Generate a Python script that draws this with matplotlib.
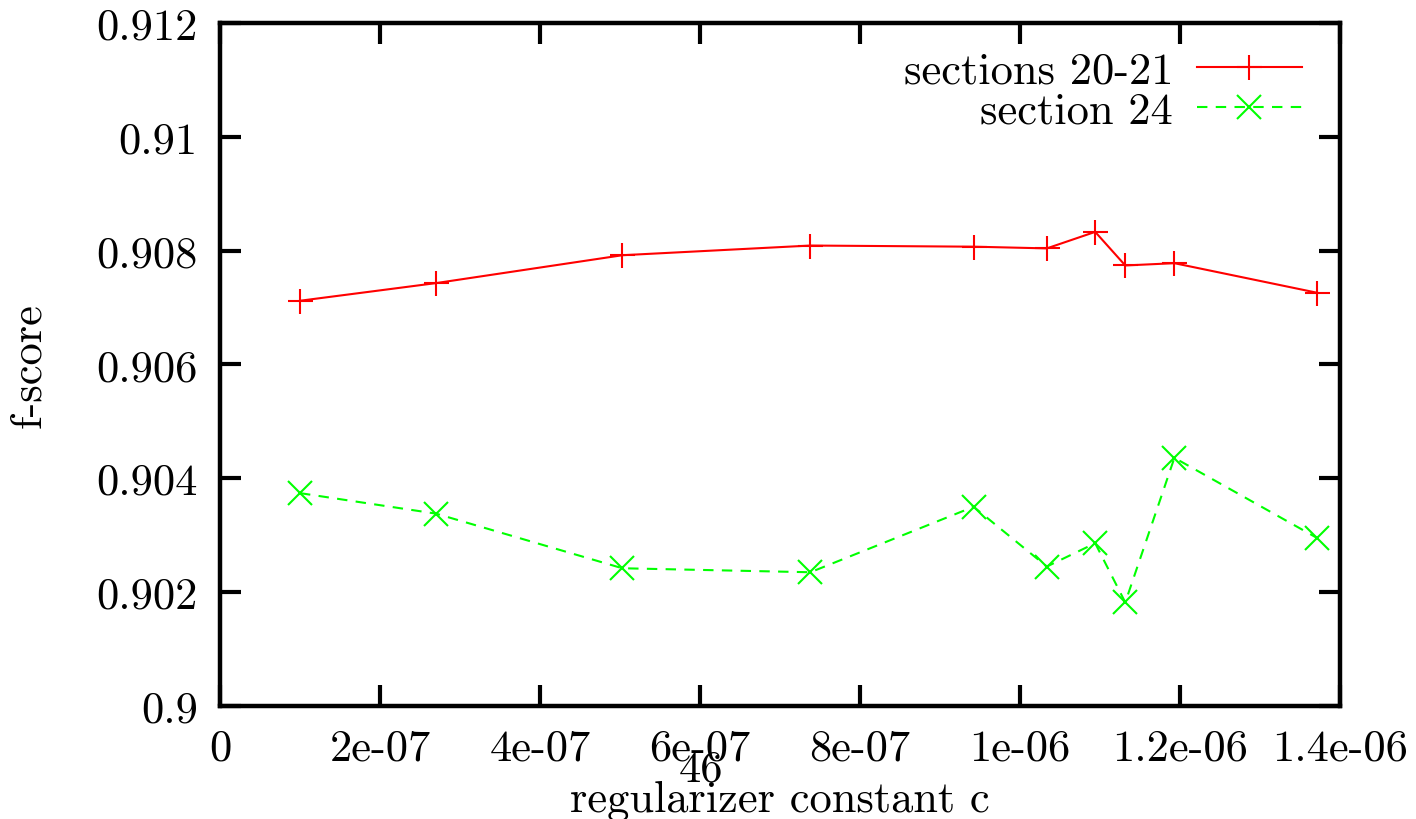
import numpy as np
import matplotlib
matplotlib.use("Agg")
import matplotlib.pyplot as plt

# regularizer constant c (same grid for both runs)
c_values = [1.0e-7, 2.70e-7, 5.03e-7, 7.38e-7, 9.42e-7, 1.0335e-6, 1.094e-6, 1.1316e-6, 1.193e-6, 1.3716e-6]
fscore_20_21 = [0.90712, 0.90743, 0.90792, 0.90809, 0.90807, 0.90804, 0.90833, 0.90774, 0.90778, 0.90726]
fscore_24 = [0.90374, 0.90338, 0.90242, 0.90235, 0.90350, 0.90245, 0.90286, 0.90182, 0.90436, 0.90295]

x_ticks = [0, 2e-7, 4e-7, 6e-7, 8e-7, 1e-6, 1.2e-6, 1.4e-6]
x_tick_labels = ["0", "2e-07", "4e-07", "6e-07", "8e-07", "1e-06", "1.2e-06", "1.4e-06"]
y_ticks = [0.9, 0.902, 0.904, 0.906, 0.908, 0.91, 0.912]
y_tick_labels = ["0.9", "0.902", "0.904", "0.906", "0.908", "0.91", "0.912"]

plt.rcParams["font.family"] = ["cmr10", "DejaVu Serif"]
plt.rcParams["axes.unicode_minus"] = False
FS = 32

fig = plt.figure(figsize=(14.16, 8.2), dpi=100)
ax = fig.add_axes([220/1416, 1 - 707/820, 1120/1416, 683/820])

ax.plot(c_values, fscore_20_21, color="#ff0000", lw=1.5, marker="+", ms=18, mew=1.5,
        label="sections 20-21")
ax.plot(c_values, fscore_24, color="#00ff00", lw=1.5, ls=(0, (5, 4)), marker="x", ms=17,
        mew=1.5, label="section 24")

ax.set_xlim(0, 1.4e-6)
ax.set_ylim(0.9, 0.912)
ax.set_xticks(x_ticks)
ax.set_xticklabels(x_tick_labels)
ax.set_yticks(y_ticks)
ax.set_yticklabels(y_tick_labels)
ax.tick_params(direction="in", length=15, width=3, labelsize=FS,
               top=True, right=True)
ax.tick_params(axis="x", pad=16)
ax.tick_params(axis="y", pad=16)
for s in ax.spines.values():
    s.set_linewidth(3.2)

ax.set_ylabel("f-score", fontsize=FS, labelpad=34)
ax.set_xlabel("regularizer constant c", fontsize=FS, labelpad=8)

ax.legend(loc="upper right", bbox_to_anchor=(0.966, 0.958), frameon=False,
          fontsize=FS, markerfirst=False, handlelength=2.37, handletextpad=0.53,
          labelspacing=0.0, borderpad=0, borderaxespad=0)

# page number from the source document
fig.text(701/1416, 1 - 770/820, "46", fontsize=FS, ha="center", va="center")

fig.savefig("out.png", dpi=100)
